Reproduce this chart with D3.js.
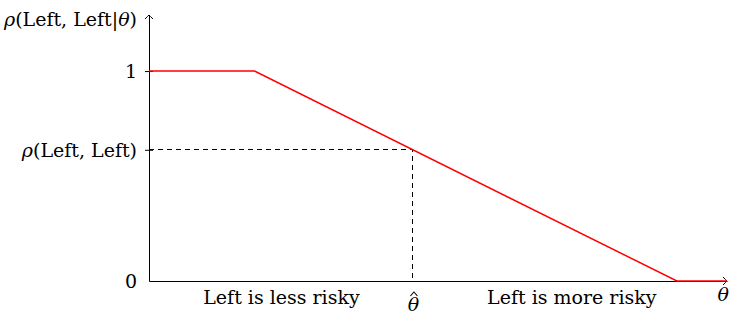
<!DOCTYPE html>
<meta charset="utf-8">
<script src="https://d3js.org/d3.v7.min.js"></script>
<style>
body { margin: 0; background: #fff; }
text { font-family: "DejaVu Serif", "Liberation Serif", serif; fill: #000; }
.math { font-style: italic; }
</style>
<div id="my_dataviz"></div>
<script>

// piecewise response rho(Left, Left | theta)
var curveTheta = [0, 2, 10, 10.95];
var curveRho   = [1, 1, 0, 0];

var thetaHat = 5;
var rhoHat = 0.625;

var yTicks = [0, rhoHat, 1];
var yTickLabels = ["0", "(Left, Left)", "1"];

var xLabelPos = [2.5, thetaHat, 8];
var xLabels = ["Left is less risky", "\u03B8", "Left is more risky"];

var margin = {top: 15, right: 4, bottom: 38, left: 149},
    width = 731 - margin.left - margin.right,
    height = 319 - margin.top - margin.bottom;

var svg = d3.select("#my_dataviz")
  .append("svg")
    .attr("width", 731)
    .attr("height", 319)
  .append("g")
    .attr("transform", "translate(" + margin.left + "," + margin.top + ")");

var x = d3.scaleLinear().domain([0, 10.95]).range([0, 578]);
var y = d3.scaleLinear().domain([0, 1.267]).range([266, 0]);

// y axis
var yAxis = svg.append("g")
  .call(d3.axisLeft(y)
    .tickValues(yTicks)
    .tickFormat(function(d, i) { return yTickLabels[i]; })
    .tickSizeInner(4)
    .tickSizeOuter(0)
    .tickPadding(8));
yAxis.select(".domain").attr("stroke", "#000").attr("stroke-width", 1);
yAxis.selectAll(".tick line").attr("x2", 4).attr("x1", -4);
yAxis.selectAll(".tick text").style("font-size", "19px").attr("dy", "0.35em");
yAxis.selectAll(".tick").filter(function(d) { return d === 0; }).select("line").remove();
// italic rho in front of the middle label
yAxis.selectAll(".tick text").filter(function(d) { return d === rhoHat; })
  .text(null)
  .call(function(t) {
    t.append("tspan").attr("class", "math").text("\u03C1");
    t.append("tspan").text(yTickLabels[1]);
  });

// x axis
var xAxis = svg.append("g")
  .attr("transform", "translate(0," + y(0) + ")")
  .call(d3.axisBottom(x)
    .tickValues(xLabelPos)
    .tickFormat(function(d, i) { return xLabels[i]; })
    .tickSize(0)
    .tickPadding(10));
xAxis.select(".domain").attr("stroke", "#000").attr("stroke-width", 1);
xAxis.selectAll(".tick text").style("font-size", "19px");
xAxis.selectAll(".tick text").filter(function(d) { return d === thetaHat; })
  .attr("class", "math")
  .attr("y", 17);

// hat over theta
xAxis.append("path")
  .attr("d", "M-3.5,4 L0,0 L3.5,4")
  .attr("transform", "translate(" + (x(thetaHat) + 1) + ",11)")
  .attr("fill", "none").attr("stroke", "#000").attr("stroke-width", 1.1);

// arrow heads
var arrow = "M-4,-4 Q-1,-1 0,0 Q-1,1 -4,4";
svg.append("path")
  .attr("d", arrow)
  .attr("transform", "translate(" + x(10.95) + "," + y(0) + ")")
  .attr("fill", "none").attr("stroke", "#000").attr("stroke-width", 1);
svg.append("path")
  .attr("d", arrow)
  .attr("transform", "translate(0," + y(1.267) + ") rotate(-90)")
  .attr("fill", "none").attr("stroke", "#000").attr("stroke-width", 1);

// axis titles
var yTitle = svg.append("text")
  .attr("x", -12)
  .attr("y", 11)
  .attr("text-anchor", "end")
  .style("font-size", "19px");
yTitle.append("tspan").attr("class", "math").text("\u03C1");
yTitle.append("tspan").text("(Left, Left|");
yTitle.append("tspan").attr("class", "math").text("\u03B8");
yTitle.append("tspan").text(")");

svg.append("text")
  .attr("x", 580)
  .attr("y", y(0) + 20)
  .attr("text-anchor", "end")
  .attr("class", "math")
  .style("font-size", "19px")
  .text("\u03B8");

// dashed guides
svg.append("path")
  .attr("d", "M" + x(0) + "," + y(rhoHat) + "H" + x(thetaHat) + "V" + y(0))
  .attr("fill", "none")
  .attr("stroke", "#000")
  .attr("stroke-width", 1)
  .attr("stroke-dasharray", "5,4")
  .attr("shape-rendering", "crispEdges");

// red curve
var line = d3.line()
  .x(function(d, i) { return x(curveTheta[i]); })
  .y(function(d, i) { return y(curveRho[i]); });

svg.append("path")
  .datum(curveTheta)
  .attr("d", line)
  .attr("fill", "none")
  .attr("stroke", "#ff0000")
  .attr("stroke-width", 1.5);

</script>
